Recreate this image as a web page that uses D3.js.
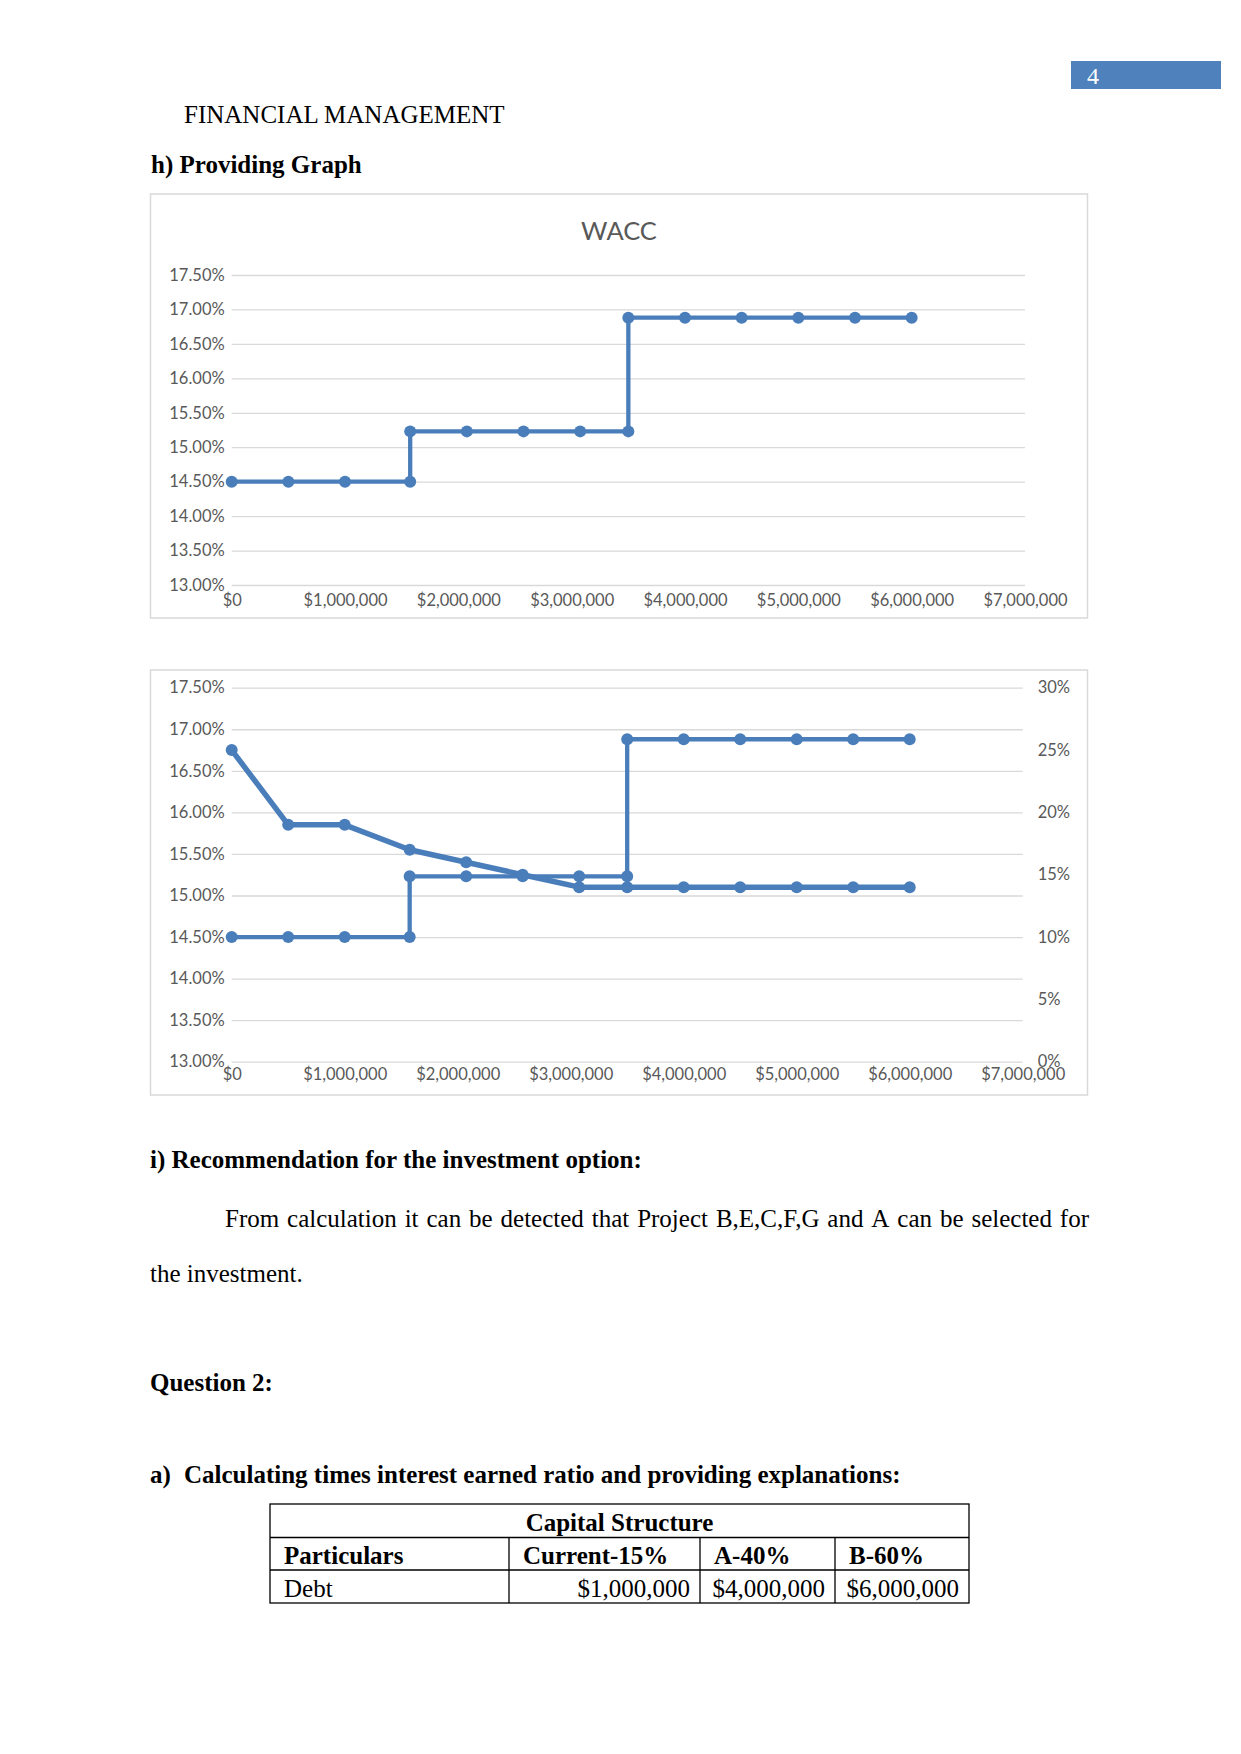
<!DOCTYPE html>
<html>
<head>
<meta charset="utf-8">
<script src="https://cdn.jsdelivr.net/npm/d3@7"></script>
<style>
  body { margin: 0; background: #fff; }
  svg { display: block; }
</style>
</head>
<body>
<svg id="page" width="1241" height="1754"></svg>
<script>
// capital raised vs WACC (step schedule)
const capital = [0, 500000, 1000000, 1575000, 1575000, 2075000, 2575000, 3075000, 3500000, 3500000, 4000000, 4500000, 5000000, 5500000, 6000000]
const wacc = [14.5, 14.5, 14.5, 14.5, 15.23, 15.23, 15.23, 15.23, 15.23, 16.88, 16.88, 16.88, 16.88, 16.88, 16.88]
// investment opportunity schedule (right axis in 2nd chart)
const iosCapital = [0, 500000, 1000000, 1575000, 2075000, 2575000, 3075000, 3500000, 4000000, 4500000, 5000000, 5500000, 6000000]
const iosRate = [25, 19, 19, 17, 16, 15, 14, 14, 14, 14, 14, 14, 14]

const xTicks = [0, 1000000, 2000000, 3000000, 4000000, 5000000, 6000000, 7000000]
const leftTicks = [13, 13.5, 14, 14.5, 15, 15.5, 16, 16.5, 17, 17.5]
const rightTicks = [0, 5, 10, 15, 20, 25, 30]

const tableHead = ['Particulars', 'Current-15%', 'A-40%', 'B-60%']
const tableRow = ['Debt', '$1,000,000', '$4,000,000', '$6,000,000']

const blue = '#4a7ebb'
const grid = '#d9d9d9'
const labelColor = '#595959'
const serif = '"Liberation Serif", "Times New Roman", serif'
const sans = 'Lato, Carlito, Calibri, sans-serif'
const labelSize = '16.5px'

const svg = d3.select('#page')

// ---- page text ----
svg.append('rect').attr('x', 1071).attr('y', 61).attr('width', 150).attr('height', 28).attr('fill', '#4f81bd')
svg.append('text').attr('x', 1087).attr('y', 83.5).attr('fill', '#fff')
  .style('font-family', serif).style('font-size', '24px').text('4')

function txt (x, y, s, bold) {
  return svg.append('text').attr('x', x).attr('y', y)
    .style('font-family', serif).style('font-size', '25px')
    .style('font-weight', bold ? 'bold' : 'normal').attr('fill', '#000').text(s)
}

txt(184, 123, 'FINANCIAL MANAGEMENT')
txt(151, 173, 'h) Providing Graph', true)

// ---- charts ----
function drawChart (box, plot, opts) {
  const g = svg.append('g')
  g.append('rect')
    .attr('x', box.x).attr('y', box.y).attr('width', box.w).attr('height', box.h)
    .attr('fill', '#fff').attr('stroke', grid).attr('stroke-width', 1.5)

  const x = d3.scaleLinear().domain([0, 7000000]).range([plot.x0, plot.x1])
  const y = d3.scaleLinear().domain([13, 17.5]).range([plot.y1, plot.y0])

  // left axis + gridlines
  const ya = g.append('g').attr('transform', `translate(${plot.x0},0)`)
    .call(d3.axisLeft(y).tickValues(leftTicks).tickSize(-(plot.x1 - plot.x0)).tickPadding(7)
      .tickFormat(d => d3.format('.2f')(d) + '%'))
  ya.select('.domain').remove()
  ya.selectAll('line').attr('stroke', grid).attr('stroke-width', 1.3)
  ya.selectAll('text').attr('fill', labelColor).style('font-family', sans).style('font-size', labelSize)

  const xa = g.append('g').attr('transform', `translate(0,${plot.y1})`)
    .call(d3.axisBottom(x).tickValues(xTicks).tickSize(0).tickPadding(opts.xPad)
      .tickFormat(d => '$' + d3.format(',')(d)))
  xa.select('.domain').remove()
  xa.selectAll('text').attr('fill', labelColor).style('font-family', sans).style('font-size', labelSize)

  if (opts.right) {
    const yr = d3.scaleLinear().domain([0, 30]).range([plot.y1, plot.y0])
    const ra = g.append('g').attr('transform', `translate(${plot.x1},0)`)
      .call(d3.axisRight(yr).tickValues(rightTicks).tickSize(0).tickPadding(15)
        .tickFormat(d => d + '%'))
    ra.select('.domain').remove()
    ra.selectAll('text').attr('fill', labelColor).style('font-family', sans).style('font-size', labelSize)

    const ios = iosCapital.map((c, i) => [c, iosRate[i]])
    g.append('path').datum(ios)
      .attr('fill', 'none').attr('stroke', blue).attr('stroke-width', 5.5).attr('stroke-linejoin', 'round')
      .attr('d', d3.line().x(d => x(d[0])).y(d => yr(d[1])))
    g.selectAll('.iosDot').data(ios).join('circle')
      .attr('cx', d => x(d[0])).attr('cy', d => yr(d[1])).attr('r', 6).attr('fill', blue)
  }

  const pts = capital.map((c, i) => [c, wacc[i]])
  g.append('path').datum(pts)
    .attr('fill', 'none').attr('stroke', blue).attr('stroke-width', 4.3).attr('stroke-linejoin', 'round')
    .attr('d', d3.line().x(d => x(d[0])).y(d => y(d[1])))
  g.selectAll('.waccDot').data(pts).join('circle')
    .attr('cx', d => x(d[0])).attr('cy', d => y(d[1])).attr('r', 6).attr('fill', blue)

  if (opts.title) {
    g.append('text').attr('x', box.x + box.w / 2).attr('y', 240).attr('text-anchor', 'middle')
      .attr('fill', labelColor).style('font-family', sans).style('font-size', '25.5px').text(opts.title)
  }
}

drawChart({ x: 150.5, y: 194, w: 937, h: 424 }, { x0: 231.7, x1: 1025, y0: 275, y1: 585 }, { title: 'WACC', xPad: 9 })
drawChart({ x: 150.5, y: 670, w: 937, h: 425 }, { x0: 231.7, x1: 1022.7, y0: 687.7, y1: 1061.7 }, { right: true, xPad: 7 })

// ---- text after charts ----
txt(150, 1168, 'i) Recommendation for the investment option:', true)

// justified first line of the paragraph
function justify (words, x0, x1, y) {
  const nodes = words.map(w => txt(0, y, w))
  const widths = nodes.map(n => n.node().getComputedTextLength())
  const gap = (x1 - x0 - d3.sum(widths)) / (words.length - 1)
  let cx = x0
  nodes.forEach((n, i) => { n.attr('x', cx); cx += widths[i] + gap })
}
justify('From calculation it can be detected that Project B,E,C,F,G and A can be selected for'.split(' '), 225, 1089, 1227)
txt(150, 1282, 'the investment.')

txt(150, 1391, 'Question 2:', true)
txt(150, 1483, 'a)', true)
txt(184, 1483, 'Calculating times interest earned ratio and providing explanations:', true)

// ---- table ----
const cols = [270, 509, 700, 835, 969]
const rows = [1504, 1537.5, 1570, 1603]
const tg = svg.append('g')
tg.append('rect').attr('x', cols[0]).attr('y', rows[0]).attr('width', cols[4] - cols[0]).attr('height', rows[3] - rows[0])
  .attr('fill', 'none').attr('stroke', '#000').attr('stroke-width', 1.3)
rows.slice(1, 3).forEach(r => {
  tg.append('line').attr('x1', cols[0]).attr('x2', cols[4]).attr('y1', r).attr('y2', r).attr('stroke', '#000').attr('stroke-width', 1.3)
})
cols.slice(1, 4).forEach(c => {
  tg.append('line').attr('x1', c).attr('x2', c).attr('y1', rows[1]).attr('y2', rows[3]).attr('stroke', '#000').attr('stroke-width', 1.3)
})
txt((cols[0] + cols[4]) / 2, 1531, 'Capital Structure', true).attr('text-anchor', 'middle')
tableHead.forEach((h, i) => txt(cols[i] + 14, 1563.5, h, true))
tableRow.forEach((v, i) => {
  if (i === 0) txt(cols[0] + 14, 1596.5, v)
  else txt(cols[i + 1] - 10, 1596.5, v).attr('text-anchor', 'end')
})
</script>
</body>
</html>
